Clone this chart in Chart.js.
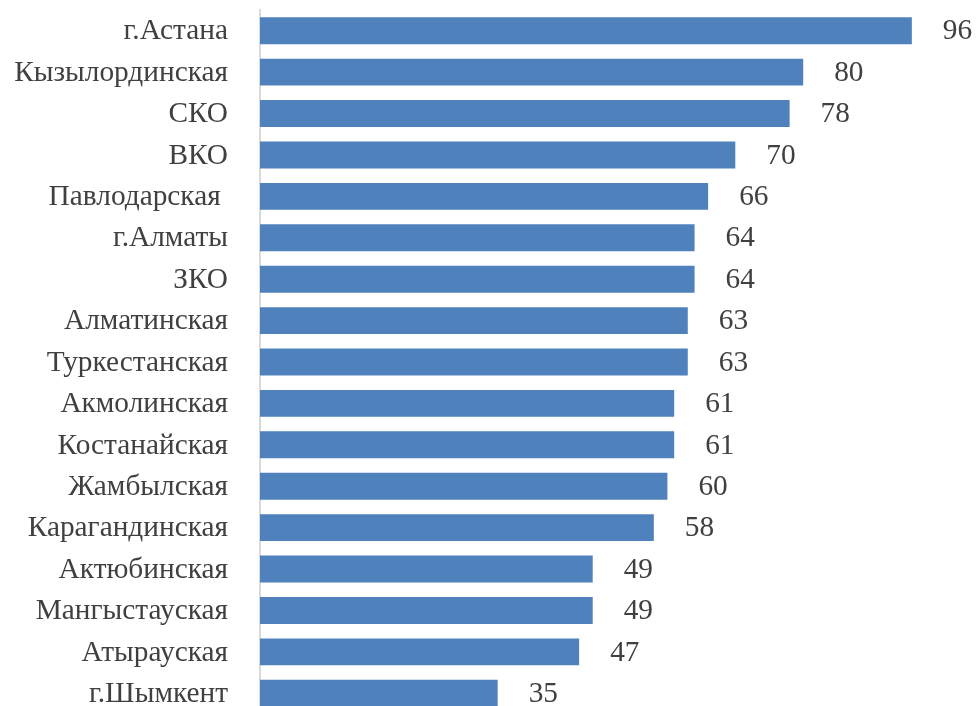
<!DOCTYPE html>
<html>
<head>
<meta charset="utf-8">
<script src="https://cdn.jsdelivr.net/npm/chart.js@4"></script>
<style>
    html, body { margin: 0; padding: 0; background: #fff; overflow: hidden; }
    #wrap { position: relative; width: 976px; height: 714px; }
</style>
</head>
<body>
<div id="wrap"><canvas id="chrtRegions"></canvas></div>
<script>
const regionLabels = ["г.Астана", "Кызылординская", "СКО", "ВКО", "Павлодарская ", "г.Алматы", "ЗКО",
    "Алматинская", "Туркестанская", "Акмолинская", "Костанайская", "Жамбылская", "Карагандинская",
    "Актюбинская", "Мангыстауская", "Атырауская", "г.Шымкент"];
const regionValues = [96, 80, 78, 70, 66, 64, 64, 63, 63, 61, 61, 60, 58, 49, 49, 47, 35];

((d, c) => {
    const CHRT_REGIONS = d.getElementById("chrtRegions")
    const FONT = "'Liberation Serif', 'Times New Roman', serif",
        FONT_SIZE = 29.33,
        TEXT_COLOR = "#404040";

    // simple value labels to the right of each bar (no datalabels plugin offline)
    const valueLabels = {
        id: "valueLabels",
        afterDatasetsDraw(chart) {
            const ctx = chart.ctx;
            const meta = chart.getDatasetMeta(0);
            ctx.save();
            ctx.font = FONT_SIZE + "px " + FONT;
            ctx.fillStyle = TEXT_COLOR;
            ctx.textAlign = "left";
            ctx.textBaseline = "middle";
            meta.data.forEach((bar, i) => {
                ctx.fillText(String(chart.data.datasets[0].data[i]), bar.x + 31, bar.y + 1);
            });
            ctx.restore();
        }
    }

    new Chart(CHRT_REGIONS, {
        type: "bar",
        data: {
            labels: regionLabels,
            datasets: [{
                data: regionValues,
                backgroundColor: "#4f81bd",
                borderWidth: 0,
                categoryPercentage: 1,
                barPercentage: 0.65
            }]
        },
        plugins: [valueLabels],
        options: {
            indexAxis: "y",
            responsive: true,
            maintainAspectRatio: false,
            animation: false,
            layout: {
                padding: { top: 10, right: 37, bottom: 0, left: 0 }
            },
            plugins: {
                legend: { display: false },
                tooltip: { enabled: false }
            },
            scales: {
                x: {
                    display: false,
                    min: 0,
                    max: 100
                },
                y: {
                    afterFit: (scale) => {
                        scale.width = 260
                        scale.paddingTop = 0
                        scale.paddingBottom = 0
                    },
                    grid: { display: false, drawTicks: false },
                    border: { display: true, color: "#d9d9d9", width: 2 },
                    ticks: {
                        padding: 32,
                        labelOffset: 1,
                        autoSkip: false,
                        color: TEXT_COLOR,
                        font: { family: FONT, size: FONT_SIZE }
                    }
                }
            }
        }
    });
})(document, console.log)
</script>
</body>
</html>
